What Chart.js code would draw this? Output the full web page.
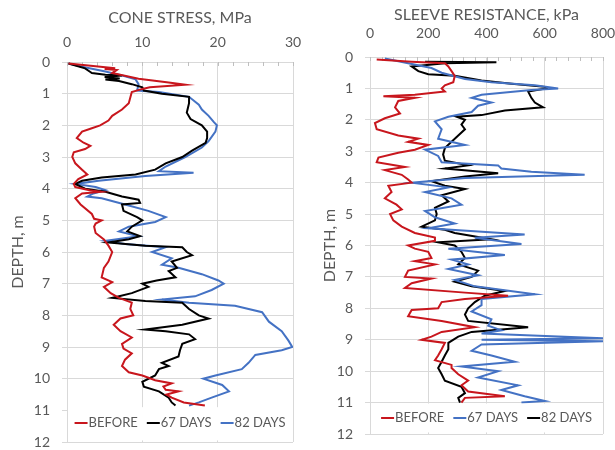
<!DOCTYPE html>
<html><head><meta charset="utf-8">
<script src="https://cdn.jsdelivr.net/npm/chart.js@4.4.0/dist/chart.umd.min.js"></script>
<style>
html,body{margin:0;padding:0;background:#fff;}
#wrap{position:relative;width:615px;height:450px;overflow:hidden;}
.box{position:absolute;top:0;height:450px;}
</style></head><body>
<div id="wrap">
<div class="box" style="left:0;width:305px"><canvas id="c1" width="305" height="450"></canvas></div>
<div class="box" style="left:305px;width:310px"><canvas id="c2" width="310" height="450"></canvas></div>
</div>
<script>
// ---------- DATA ----------
const seriesLabels = ['BEFORE', '67 DAYS', '82 DAYS'];
const depthTicks = [0,1,2,3,4,5,6,7,8,9,10,11,12];

// CONE STRESS (MPa) vs depth (m)
const coneDepthBefore = [0.05,0.2,0.22,0.25,0.35,0.53,0.65,0.72,0.8,0.85,0.95,1.3,1.5,1.7,1.85,2.0,2.1,2.2,2.4,2.55,2.65,2.75,2.85,3.0,3.2,3.4,3.55,3.7,3.85,3.95,4.05,4.1,4.15,4.3,4.5,4.8,4.95,5.0,5.1,5.2,5.4,5.6,5.8,6.0,6.3,6.5,6.8,6.95,7.1,7.3,7.45,7.6,7.8,8.0,8.1,8.3,8.5,8.7,8.9,9.05,9.2,9.4,9.6,9.8,9.9,10.05,10.15,10.25,10.35,10.4,10.5,10.6,10.75,10.85];
const coneBefore      = [0.2,6.4,5.0,6.6,6.0,9.5,13.5,15.7,11.0,10.0,8.6,8.2,7.3,6.0,5.5,4.4,3.2,2.0,1.3,2.2,3.1,2.4,0.9,0.7,1.1,2.0,2.7,1.5,0.9,1.1,3.0,4.5,2.0,1.1,1.8,3.3,3.6,4.6,3.8,3.6,3.8,4.9,5.5,6.0,5.5,4.9,4.6,6.0,4.9,5.8,6.9,8.6,8.4,8.8,7.1,6.2,7.1,8.6,7.3,7.5,8.6,7.7,7.3,8.2,10.0,11.7,13.9,12.8,13.1,14.8,13.2,13.9,15.5,18.3];

const coneDepth67 = [0.05,0.2,0.3,0.35,0.4,0.43,0.47,0.52,0.55,0.6,0.7,0.8,0.9,1.0,1.1,1.3,1.6,1.8,2.0,2.2,2.4,2.55,2.8,3.0,3.2,3.4,3.55,3.65,3.75,3.85,4.0,4.1,4.25,4.35,4.45,4.5,4.7,4.9,5.0,5.2,5.35,5.5,5.6,5.7,5.8,5.85,6.0,6.1,6.3,6.5,6.6,6.8,6.9,7.0,7.1,7.3,7.45,7.55,7.6,7.8,8.0,8.1,8.3,8.45,8.5,8.6,8.75,8.9,9.1,9.3,9.5,9.6,9.7,9.9,10.1,10.25,10.4,10.6,10.75,10.85];
const cone67      = [0.2,2.4,3.0,3.3,5.1,7.3,5.0,7.0,5.1,6.9,8.6,10.0,10.2,12.6,16.2,16.2,15.9,16.4,17.9,18.6,18.6,18.4,16.6,15.3,13.1,11.7,9.1,4.6,2.0,1.1,2.4,5.1,7.3,9.5,9.7,7.3,7.5,9.3,10.0,8.6,8.0,9.7,8.2,5.5,10.4,15.3,15.9,16.6,13.9,14.6,13.5,14.4,11.9,10.0,10.8,8.6,6.0,10.4,15.3,16.2,17.5,18.8,15.3,10.4,13.1,16.2,17.0,15.3,15.0,14.8,12.6,13.5,12.2,11.7,10.0,10.2,12.2,13.5,13.9,14.4];

const coneDepth82 = [0.05,0.15,0.3,0.45,0.55,0.7,0.9,0.95,1.1,1.35,1.5,1.7,1.9,2.0,2.2,2.5,2.7,3.0,3.3,3.45,3.5,3.6,3.75,3.85,3.95,4.05,4.15,4.25,4.3,4.5,4.7,4.9,5.05,5.2,5.35,5.5,5.65,5.75,5.85,6.0,6.2,6.4,6.5,6.7,6.9,7.0,7.2,7.4,7.5,7.6,7.7,7.9,8.2,8.5,8.8,9.0,9.1,9.25,9.5,9.7,9.9,10.0,10.2,10.4,10.6,10.75,10.85];
const cone82      = [0.2,2.0,5.1,7.7,9.1,9.5,9.3,12.2,16.2,17.5,17.9,18.8,19.5,19.9,19.7,18.8,17.9,15.7,13.1,12.2,16.8,10.4,4.2,1.1,3.8,5.1,3.5,2.7,4.6,7.7,10.8,13.1,11.7,8.2,6.9,9.5,5.1,7.7,13.1,11.3,13.9,12.6,14.8,17.9,20.1,20.8,19.2,17.0,12.6,16.2,22.3,25.9,26.8,28.5,29.4,29.9,28.5,25.0,24.1,23.2,19.7,18.1,20.6,21.5,19.2,17.5,16.2];

// SLEEVE RESISTANCE (kPa) vs depth (m)
const sleeveDepthBefore = [0.08,0.15,0.2,0.3,0.45,0.6,0.8,0.9,1.0,1.1,1.2,1.25,1.3,1.4,1.6,1.8,1.95,2.1,2.3,2.5,2.6,2.7,2.8,2.95,3.05,3.2,3.35,3.5,3.6,3.75,3.9,4.0,4.1,4.3,4.5,4.7,4.85,5.0,5.2,5.4,5.6,5.75,5.85,6.0,6.1,6.2,6.4,6.5,6.6,6.8,7.0,7.05,7.2,7.35,7.5,7.6,7.7,7.8,8.0,8.05,8.25,8.4,8.6,8.75,8.9,9.0,9.1,9.3,9.5,9.65,9.8,9.9,10.1,10.3,10.45,10.65,10.8,10.85,11.0];
const sleeveBefore      = [23,143,257,269,280,291,286,257,246,257,154,46,154,97,86,103,51,17,23,97,166,131,200,154,97,29,23,120,51,109,131,143,63,74,51,91,109,69,80,109,154,223,223,131,154,200,211,154,223,131,120,211,143,120,326,474,326,246,234,143,131,246,360,246,211,177,257,246,234,223,280,280,303,337,314,337,463,326,314];

const sleeveDepth67 = [0.05,0.2,0.35,0.5,0.7,0.8,0.9,1.0,1.05,1.2,1.3,1.45,1.55,1.75,1.9,2.05,2.3,2.6,2.8,2.95,3.15,3.35,3.45,3.55,3.65,3.75,3.85,4.0,4.15,4.3,4.5,4.7,4.9,5.1,5.3,5.45,5.65,5.75,5.95,6.1,6.3,6.45,6.6,6.75,6.95,7.1,7.3,7.55,7.7,7.9,8.1,8.35,8.55,8.7,8.8,8.95,9.0,9.05,9.15,9.35,9.5,9.7,9.85,10.0,10.2,10.45,10.6,10.8,10.95,11.0];
const sleeve67      = [51,131,211,246,326,417,566,646,554,383,349,417,371,349,269,223,246,234,326,189,234,246,440,451,554,737,326,143,269,189,280,314,189,223,291,200,531,360,520,269,463,280,337,269,371,291,360,566,383,383,349,417,406,451,383,800,383,800,383,349,417,497,314,440,371,509,451,531,600,520];

const sleeveDepth82 = [0.15,0.17,0.2,0.3,0.45,0.55,0.6,0.75,0.85,0.95,1.0,1.1,1.3,1.45,1.6,1.7,1.85,1.9,2.0,2.15,2.3,2.5,2.7,2.9,3.1,3.3,3.45,3.55,3.7,3.8,3.95,4.1,4.2,4.4,4.6,4.8,5.0,5.2,5.4,5.5,5.6,5.8,5.9,6.0,6.2,6.4,6.6,6.8,7.0,7.15,7.3,7.45,7.6,7.8,8.0,8.2,8.4,8.6,8.75,8.9,9.1,9.3,9.5,9.7,9.9,10.1,10.3,10.5,10.7,10.85,11.0];
const sleeve82      = [189,434,257,143,166,200,291,383,486,600,606,543,554,566,594,463,383,297,326,314,326,303,280,257,251,257,337,257,440,326,211,257,326,246,269,223,229,223,177,257,291,417,234,291,314,326,303,371,349,291,349,463,394,360,337,326,337,543,349,303,269,269,257,246,234,246,257,314,326,303,309];

// ---------- STYLE ----------
const FONT = "Lato, 'Open Sans', sans-serif";
const GRAY = '#595959';
const GRID = '#D9D9D9';
const RED = '#C8161D', BLACK = '#000000', BLUE = '#4472C4';

const minorTicks = {
  id: 'minorTicks',
  beforeDatasetsDraw(chart, args, o) {
    const xs = chart.scales.x, ctx = chart.ctx, top = chart.chartArea.top;
    ctx.save(); ctx.strokeStyle = o.color; ctx.lineWidth = 1;
    for (let v = xs.min; v <= xs.max + 1e-9; v += o.step) {
      const px = Math.round(xs.getPixelForValue(v)) + 0.5;
      ctx.beginPath(); ctx.moveTo(px, top); ctx.lineTo(px, top + o.len); ctx.stroke();
    }
    ctx.restore();
  }
};

const insideLegend = {
  id: 'insideLegend',
  afterDatasetsDraw(chart, args, o) {
    const ctx = chart.ctx, ca = chart.chartArea, ys = chart.scales.y;
    const top = ys.getPixelForValue(o.top), bottom = ys.getPixelForValue(o.bottom);
    ctx.save();
    ctx.fillStyle = '#fff';
    ctx.fillRect(ca.left + 1, top, ca.right - ca.left - 1, bottom - top);
    ctx.font = o.size + 'px ' + FONT;
    const items = chart.data.datasets.map(ds => ({label: ds.label, color: ds.borderColor, w: ctx.measureText(ds.label).width}));
    const total = items.reduce((a, it) => a + o.sample + o.gap + it.w, 0) + o.spacing * (items.length - 1);
    let x = (ca.left + ca.right) / 2 - total / 2;
    const yMid = ys.getPixelForValue(o.mid);
    ctx.textBaseline = 'middle';
    items.forEach(it => {
      ctx.strokeStyle = it.color; ctx.lineWidth = 2;
      ctx.beginPath(); ctx.moveTo(x, yMid); ctx.lineTo(x + o.sample, yMid); ctx.stroke();
      x += o.sample + o.gap;
      ctx.fillStyle = GRAY; ctx.fillText(it.label, x, yMid);
      x += it.w + o.spacing;
    });
    ctx.restore();
  }
};

function pts(depths, vals) { return depths.map((d, i) => ({x: vals[i], y: d})); }

function makeChart(id, c) {
  return new Chart(document.getElementById(id), {
    type: 'scatter',
    data: {
      datasets: c.series.map(s => ({
        label: s.label, data: pts(s.depth, s.values),
        borderColor: s.color, backgroundColor: s.color,
        showLine: true, pointRadius: 0, borderWidth: 2, tension: 0
      }))
    },
    options: {
      responsive: false, animation: false, events: [],
      layout: {padding: {left: 0, right: c.padRight, top: 0, bottom: c.padBottom}},
      plugins: {
        legend: {display: false},
        tooltip: {enabled: false},
        minorTicks: {step: c.minor, len: 4, color: '#BFBFBF'},
        insideLegend: c.legend
      },
      scales: {
        x: {
          type: 'linear', position: 'top', min: 0, max: c.xMax,
          ticks: {stepSize: c.xStep, color: GRAY, font: {family: FONT, size: 14}, padding: c.xPad, maxRotation: 0},
          grid: {color: GRID, drawTicks: false},
          border: {display: false},
          title: {display: true, text: c.title, color: GRAY,
                  font: {family: FONT, size: 16, weight: 'normal', lineHeight: 1.2},
                  padding: {top: c.titleTop, bottom: 0}},
          afterFit: s => { s.height = c.xHeight; s.paddingLeft = 0; s.paddingRight = 0; }
        },
        y: {
          type: 'linear', reverse: true, min: 0, max: 12,
          afterBuildTicks: s => { s.ticks = depthTicks.map(v => ({value: v})); },
          ticks: {color: GRAY, font: {family: FONT, size: 14}, padding: 12},
          grid: {color: GRID, tickColor: GRID, tickLength: 5},
          border: {display: false},
          title: {display: true, text: 'DEPTH, m', color: GRAY, font: {family: FONT, size: 16}, padding: {top: c.yTitlePad, bottom: 0}},
          afterFit: s => { s.width = c.yWidth; s.paddingTop = 0; s.paddingBottom = 0; }
        }
      }
    },
    plugins: [minorTicks, insideLegend]
  });
}

makeChart('c1', {
  title: 'CONE STRESS, MPa', xMax: 30, xStep: 10, minor: 2,
  padRight: 12, padBottom: 8, titleTop: 8.4, xHeight: 62, xPad: 11.6, yWidth: 67, yTitlePad: 8,
  legend: {top: 10.9, bottom: 11.95, mid: 11.4, size: 13, sample: 13, gap: 1, spacing: 9},
  series: [
    {label: seriesLabels[0], depth: coneDepthBefore, values: coneBefore, color: RED},
    {label: seriesLabels[1], depth: coneDepth67, values: cone67, color: BLACK},
    {label: seriesLabels[2], depth: coneDepth82, values: cone82, color: BLUE}
  ]
});

makeChart('c2', {
  title: 'SLEEVE RESISTANCE, kPa', xMax: 800, xStep: 200, minor: 40,
  padRight: 12, padBottom: 16, titleTop: 5.4, xHeight: 57, xPad: 15.6, yWidth: 65, yTitlePad: 15,
  legend: {top: 11.03, bottom: 11.95, mid: 11.49, size: 13, sample: 13, gap: 1, spacing: 9},
  series: [
    {label: seriesLabels[0], depth: sleeveDepthBefore, values: sleeveBefore, color: RED},
    {label: seriesLabels[1], depth: sleeveDepth67, values: sleeve67, color: BLUE},
    {label: seriesLabels[2], depth: sleeveDepth82, values: sleeve82, color: BLACK}
  ]
});
</script>
</body></html>
